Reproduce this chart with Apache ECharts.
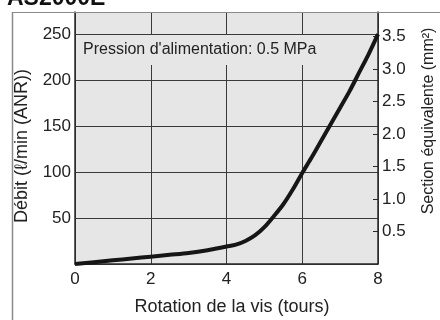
<!DOCTYPE html>
<html><head><meta charset="utf-8">
<script src="https://cdn.jsdelivr.net/npm/echarts@6/dist/echarts.min.js"></script>
<style>html,body{margin:0;padding:0;background:#fff}#c{width:440px;height:320px}</style>
</head><body><div id="c"></div>
<script>
const turns = [0,0.5,1,1.5,2,2.5,3,3.5,4,4.25,4.5,4.75,5,5.25,5.5,5.75,6,6.25,6.5,6.75,7,7.25,7.5,7.75,8];
const flow  = [0,2,4,6,8,10,12,15,19,21,25,31,40,52,65,81,99,116,134,152,170,188,208,228,250];
const xTicks = [0,2,4,6,8];
const leftTicks = [50,100,150,200,250];
const rightTicks = [0.5,1.0,1.5,2.0,2.5,3.0,3.5];
const title = 'AS2000E';
const note = "Pression d'alimentation: 0.5 MPa";
const xName = 'Rotation de la vis (tours)';
const yName = 'Débit (ℓ/min (ANR))';
const y2Name = 'Section équivalente (mm²)';

const FONT = '"Liberation Sans", Arial, sans-serif';
const chart = echarts.init(document.getElementById('c'), null, {renderer:'canvas'});
const grid = {left:75, right:62, top:12, bottom:56};
const dark = '#2a2a2a';
chart.setOption({
  animation:false,
  backgroundColor:'#fff',
  grid:{...grid, show:true, backgroundColor:'#e6e6e6', borderWidth:0},
  xAxis:{type:'value', min:0, max:8, interval:2,
    axisLine:{show:true, lineStyle:{color:dark, width:1.5}},
    axisTick:{show:false},
    axisLabel:{color:'#222', fontSize:17, fontFamily:FONT, margin:7,
      formatter:v=> xTicks.includes(v)? String(v):''},
    splitLine:{show:true, lineStyle:{color:'#3a3a3a', width:1}}},
  yAxis:[
    {type:'value', min:0, max:274, interval:50, position:'left',
     axisLine:{show:true, lineStyle:{color:dark, width:1.5}},
     axisTick:{show:false},
     axisLabel:{color:'#222', fontSize:17, fontFamily:FONT, margin:4, showMaxLabel:false,
       formatter:v=> leftTicks.includes(v)? String(v):''},
     splitLine:{show:true, lineStyle:{color:'#3a3a3a', width:1}}},
    {type:'value', min:0, max:3.877, interval:0.5, position:'right',
     axisLine:{show:true, lineStyle:{color:dark, width:1.5}},
     axisTick:{show:true, inside:true, length:5, lineStyle:{color:dark}},
     axisLabel:{color:'#222', fontSize:17, fontFamily:FONT, margin:4, showMaxLabel:false, showMinLabel:false,
       formatter:v=> rightTicks.some(t=>Math.abs(t-v)<1e-6)? v.toFixed(1):''},
     splitLine:{show:false}}
  ],
  series:[{type:'line', data:turns.map((t,i)=>[t,flow[i]]), smooth:0.3, symbol:'none',
    lineStyle:{color:'#161616', width:4}, z:5}],
  graphic:[
    {type:'line', shape:{x1:12,y1:12.5,x2:440,y2:12.5}, style:{stroke:'#8a8a8a', lineWidth:1}, z:10},
    {type:'line', shape:{x1:12.5,y1:12,x2:12.5,y2:320}, style:{stroke:'#8a8a8a', lineWidth:1.5}, z:10},
    {type:'text', left:7, top:-13, style:{text:title, font:'bold 23px '+FONT, fill:'#111'}, z:10},
    {type:'text', x:77, y:35, style:{text:note, font:'16px '+FONT, fill:'#222',
      backgroundColor:'#e6e6e6', padding:[7,18,7,6]}, z:8},
    {type:'text', x:232, y:307, style:{text:xName, font:'18px '+FONT, fill:'#222', align:'center', verticalAlign:'middle'}, z:10},
    {type:'text', x:22, y:146, rotation:Math.PI/2, style:{text:yName, font:'18px '+FONT, fill:'#222', align:'center', verticalAlign:'middle'}, z:10},
    {type:'text', x:429, y:121, rotation:Math.PI/2, style:{text:y2Name, font:'16px '+FONT, fill:'#222', align:'center', verticalAlign:'middle'}, z:10}
  ]
});
</script></body></html>
